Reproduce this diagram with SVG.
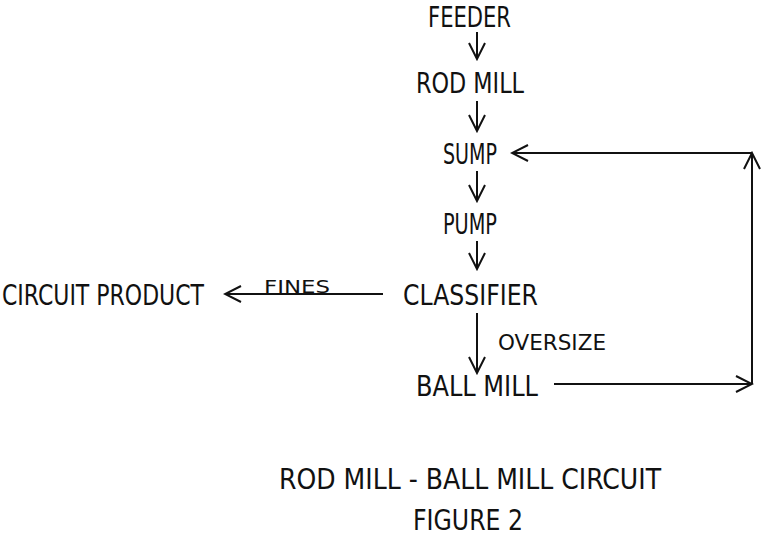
<svg xmlns="http://www.w3.org/2000/svg" width="765" height="538" viewBox="0 0 765 538">
<defs>
<style>
text{font-family:"DejaVu Sans Condensed","Liberation Sans Narrow","Liberation Sans",sans-serif;fill:#111;}
.n{font-size:29px;}
.s{font-size:21px;}
.f{font-size:17px;}
.c{fill:none;stroke:#111;stroke-width:2;}
</style>
<marker id="ah" viewBox="0 0 20 20" refX="18" refY="10" markerWidth="20" markerHeight="20" markerUnits="userSpaceOnUse" orient="auto">
<path d="M2,2 L18,10 L2,18" fill="none" stroke="#111" stroke-width="2"/>
</marker>
</defs>
<rect width="765" height="538" fill="#fff"/>
<g id="connectors">
<line class="c" x1="477" y1="32" x2="477" y2="59" marker-end="url(#ah)"/>
<line class="c" x1="477" y1="101" x2="477" y2="131" marker-end="url(#ah)"/>
<line class="c" x1="477" y1="171" x2="477" y2="201" marker-end="url(#ah)"/>
<line class="c" x1="477" y1="241" x2="477" y2="269" marker-end="url(#ah)"/>
<line class="c" x1="477" y1="313" x2="477" y2="373" marker-end="url(#ah)"/>
<line class="c" x1="383" y1="294" x2="225" y2="294" marker-end="url(#ah)"/>
<line class="c" x1="554" y1="384" x2="752" y2="384" marker-end="url(#ah)"/>
<line class="c" x1="752" y1="384" x2="752" y2="153" marker-end="url(#ah)"/>
<line class="c" x1="752" y1="153" x2="512" y2="153" marker-end="url(#ah)"/>
</g>
<g id="feeder"><text class="n" x="428" y="27" textLength="83" lengthAdjust="spacingAndGlyphs">FEEDER</text></g>
<g id="rodmill"><text class="n" x="416" y="93" textLength="108" lengthAdjust="spacingAndGlyphs">ROD MILL</text></g>
<g id="sump"><text class="n" x="443" y="164" textLength="54" lengthAdjust="spacingAndGlyphs">SUMP</text></g>
<g id="pump"><text class="n" x="443" y="234" textLength="54" lengthAdjust="spacingAndGlyphs">PUMP</text></g>
<g id="classifier"><text class="n" x="403" y="305" textLength="135" lengthAdjust="spacingAndGlyphs">CLASSIFIER</text></g>
<g id="ballmill"><text class="n" x="416" y="396" textLength="122" lengthAdjust="spacingAndGlyphs">BALL MILL</text></g>
<g id="product"><text class="n" x="2" y="305" textLength="202" lengthAdjust="spacingAndGlyphs">CIRCUIT PRODUCT</text></g>
<g id="labels">
<text class="f" x="264" y="293" textLength="66" lengthAdjust="spacingAndGlyphs">FINES</text>
<text class="s" x="498" y="350" textLength="108" lengthAdjust="spacingAndGlyphs">OVERSIZE</text>
</g>
<g id="caption">
<text class="n" x="279" y="489" textLength="382" lengthAdjust="spacingAndGlyphs">ROD MILL - BALL MILL CIRCUIT</text>
<text class="n" x="413" y="530" textLength="110" lengthAdjust="spacingAndGlyphs">FIGURE 2</text>
</g>
</svg>
